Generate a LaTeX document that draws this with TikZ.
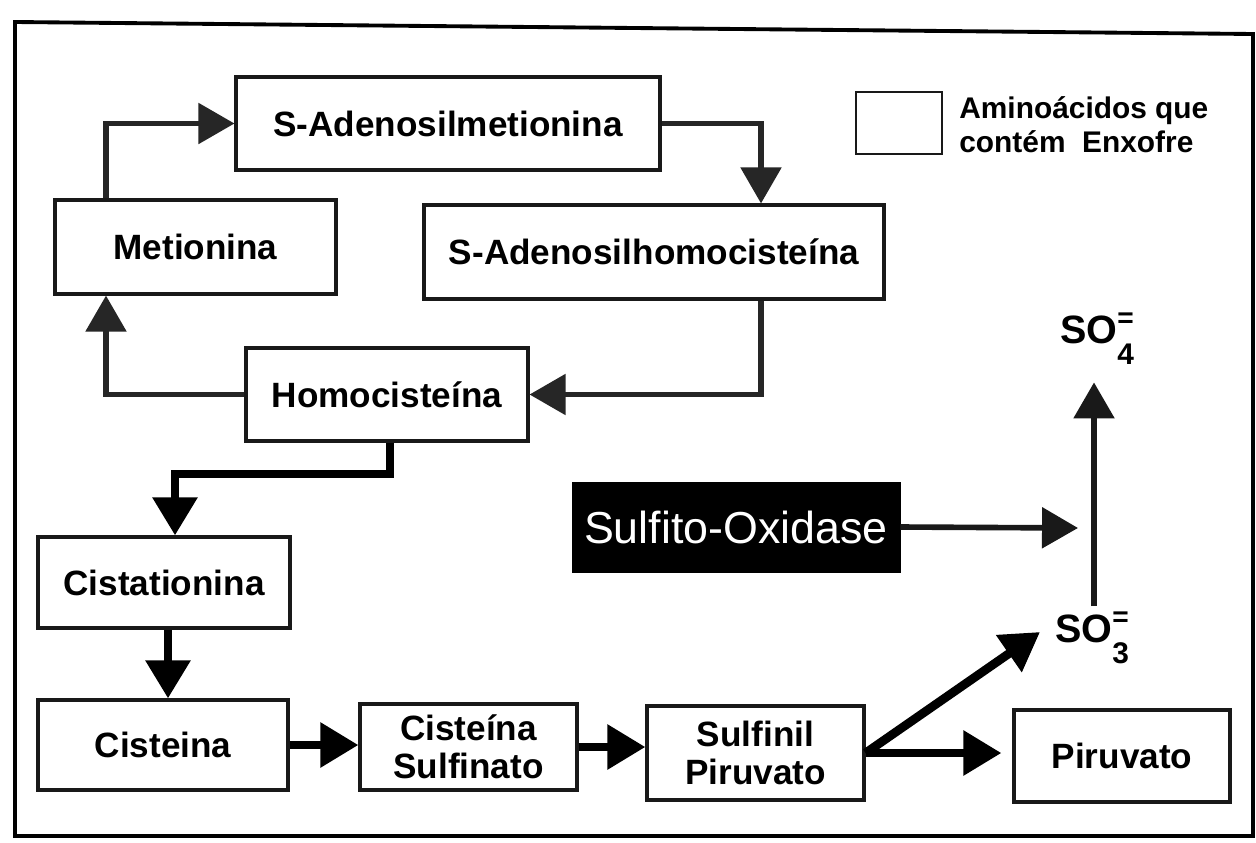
\documentclass[tikz,border=0pt]{standalone}
\usepackage{fontspec}
\setmainfont{Liberation Sans}
\usetikzlibrary{arrows.meta}
\newcommand{\sulfion}[1]{SO\makebox[0pt][l]{\raisebox{9pt}{\fontsize{16}{16}\selectfont\bfseries =}}\raisebox{-12pt}{\fontsize{17}{17}\selectfont\bfseries #1}}
\tikzset{
  box/.style={draw=black!90, line width=1.8pt, fill=white, inner sep=0pt, align=center,
    font=\fontsize{20}{21.6}\selectfont\bfseries},
  arrU/.style={draw=black!85, line width=3pt, -{Triangle[length=0.72cm,width=0.8cm]}},
  arrL/.style={draw=black, line width=5pt, -{Triangle[length=0.76cm,width=0.86cm]}},
  arrM/.style={draw=black!90, line width=3.2pt, -{Triangle[length=0.72cm,width=0.8cm]}},
  ion/.style={inner sep=0pt, font=\fontsize{22.5}{24}\selectfont\bfseries},
}
\begin{document}
\begin{tikzpicture}[x=0.02cm,y=-0.02cm]
\useasboundingbox (0,0) rectangle (1256,842);
\fill[white] (0,0) rectangle (1256,842);
% frame
\draw[line width=2.2pt, line join=miter] (15,22) -- (1253,34) -- (1253,836) -- (15,836) -- cycle;

% nodes
\node[box, minimum width=8.48cm, minimum height=1.86cm] (sam) at (448,123.5) {S-Adenosilmetionina};
\node[box, minimum width=5.62cm, minimum height=1.88cm] (met) at (195.5,247) {Metionina};
\node[box, minimum width=9.2cm, minimum height=1.88cm] (sah) at (654,252) {S-Adenosilhomocisteína};
\node[box, minimum width=5.64cm, minimum height=1.86cm] (hcy) at (387,394.5) {Homocisteína};
\node[box, minimum width=5.04cm, minimum height=1.82cm] (cist) at (164,582.5) {Cistationina};
\node[box, minimum width=5.0cm, minimum height=1.8cm] (cys) at (163,745) {Cisteina};
\node[box, minimum width=4.34cm, minimum height=1.72cm] (csul) at (468.5,747) {Cisteína\\Sulfinato};
\node[box, minimum width=4.34cm, minimum height=1.88cm] (spir) at (755.5,753) {Sulfinil\\Piruvato};
\node[box, minimum width=4.32cm, minimum height=1.84cm] (pir) at (1122,756) {Piruvato};
\node[fill=black, draw=black, minimum width=6.56cm, minimum height=1.8cm, inner sep=0pt,
      text=white, font=\fontsize{25.5}{27}\selectfont] (sox) at (736,527) {Sulfito-Oxidase};

% legend
\node[draw=black!90, line width=1.6pt, fill=white, minimum width=1.72cm, minimum height=1.24cm, inner sep=0pt] (leg) at (899,123) {};
\node[anchor=west, align=left, inner sep=0pt, font=\fontsize{17}{19.3}\selectfont\bfseries] (legt) at (959,125) {Aminoácidos que\\contém\ \ Enxofre};

% sulfite / sulfate
\node[ion, anchor=base west] (so4) at (1060,343) {\sulfion{4}};
\node[ion, anchor=base west] (so3) at (1055,642) {\sulfion{3}};

% helper coordinates
\coordinate (c1) at (106,0);
\coordinate (c2) at (761,0);
\coordinate (c3) at (390,0);
\coordinate (c4) at (175,474);
\coordinate (c6) at (168,0);
\coordinate (c7) at (1078,528);
\coordinate (c8) at (1094,0);
\coordinate (c9) at (1040,632);

% upper cycle
\draw[arrU] (c1 |- met.north) |- (sam.west);
\draw[arrU] (sam.east) -| (c2 |- sah.north);
\draw[arrU] (c2 |- sah.south) |- (hcy.east);
\draw[arrU] (hcy.west) -| (c1 |- met.south);

% lower pathway
\draw[arrL] (c3 |- hcy.south) |- (c4) -- (c4 |- cist.north);
\draw[arrL] (c6 |- cist.south) -- (c6 |- cys.north);
\draw[arrL] (cys.east) -- (cys.east -| csul.west);
\draw[arrL] (csul.east) -- (csul.east -| spir.west);
\draw[arrL, shorten >=0.22cm] (spir.east) -- (spir.east -| pir.west);
\draw[arrL] (spir.east) -- (c9);

% oxidation
\draw[arrM] (sox.east) -- (c7);
\draw[arrM, shorten <=0.1cm, shorten >=0.36cm] (c8 |- so3.north) -- (c8 |- so4.south);
\end{tikzpicture}
\end{document}
